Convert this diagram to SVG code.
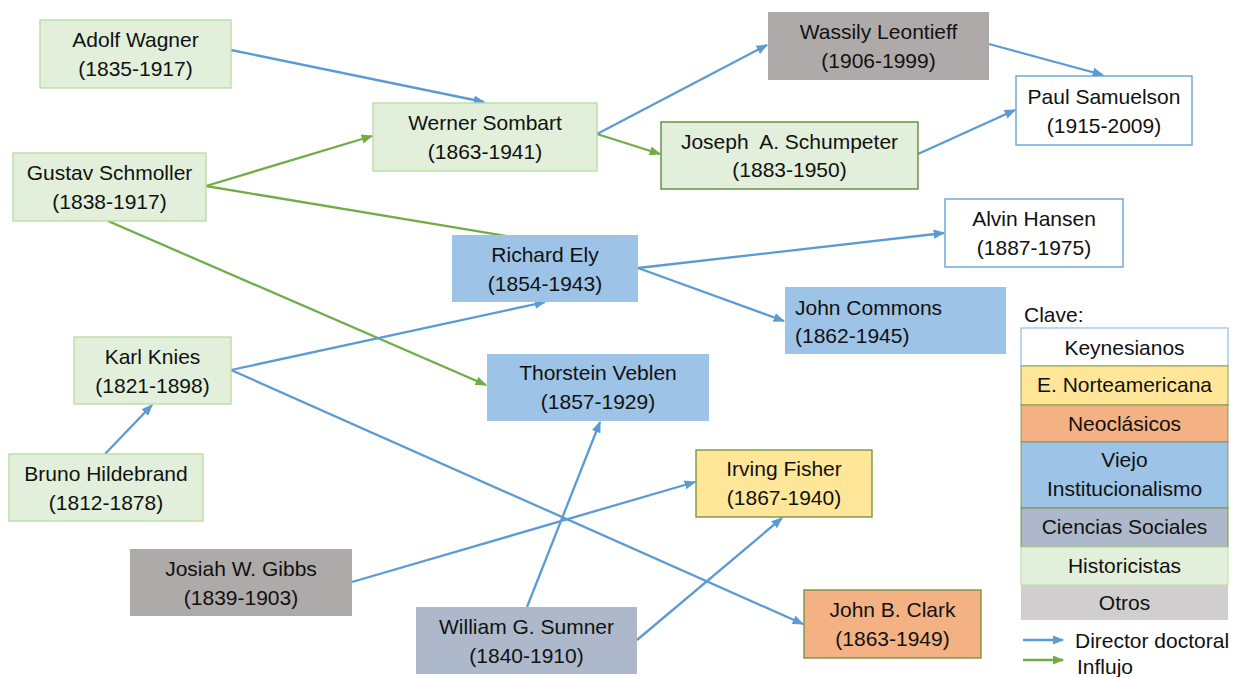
<svg xmlns="http://www.w3.org/2000/svg" width="1238" height="677" viewBox="0 0 1238 677">
<style>
text{font-family:"Liberation Sans",Arial,sans-serif;font-size:21px;fill:#111}
.c{text-anchor:middle}
.hist{fill:#e2efda;stroke:#b7dba0;stroke-width:1.3}
.histd{fill:#e2efda;stroke:#548235;stroke-width:1.3}
.inst{fill:#9dc3e6;stroke:none}
.key{fill:#fff;stroke:#5b9bd5;stroke-width:1.3}
.otr{fill:#aeaaaa;stroke:none}
.soc{fill:#adb9ca;stroke:none}
.nor{fill:#ffe699;stroke:#6f8f3a;stroke-width:1.3}
.neo{fill:#f4b183;stroke:#6f8f3a;stroke-width:1.3}
.b{stroke:#5b9bd5;stroke-width:2.3;fill:none;marker-end:url(#ab)}
.g{stroke:#70ad47;stroke-width:2.3;fill:none;marker-end:url(#ag)}
</style>
<defs>
<marker id="ab" viewBox="0 0 10 10" refX="9" refY="5" markerWidth="5" markerHeight="5" orient="auto" markerUnits="strokeWidth"><path d="M0,1 L10,5 L0,9 Z" fill="#5b9bd5"/></marker>
<marker id="ag" viewBox="0 0 10 10" refX="9" refY="5" markerWidth="5" markerHeight="5" orient="auto" markerUnits="strokeWidth"><path d="M0,1 L10,5 L0,9 Z" fill="#70ad47"/></marker>
</defs>
<g id="connectors">
<line class="b" x1="231" y1="50" x2="484" y2="102"/>
<line class="g" x1="206" y1="186" x2="372" y2="136"/>
<line x1="206" y1="186" x2="530" y2="240" stroke="#70ad47" stroke-width="2.3"/>
<line class="g" x1="108" y1="221" x2="486" y2="385"/>
<line class="b" x1="597" y1="134" x2="767" y2="45"/>
<line class="g" x1="597" y1="134" x2="660" y2="154"/>
<line class="b" x1="989" y1="44" x2="1103" y2="75"/>
<line class="b" x1="918" y1="154" x2="1015" y2="110"/>
<line class="b" x1="638" y1="268" x2="944" y2="233"/>
<line class="b" x1="638" y1="268" x2="784" y2="321"/>
<line class="b" x1="231" y1="370" x2="545" y2="302"/>
<line class="b" x1="231" y1="370" x2="803" y2="624"/>
<line class="b" x1="105" y1="454" x2="152" y2="405"/>
<line class="b" x1="352" y1="582" x2="695" y2="482"/>
<line class="b" x1="527" y1="607" x2="600" y2="422"/>
<line class="b" x1="637" y1="640" x2="782" y2="518"/>
</g>
<g id="wagner"><rect class="hist" x="40" y="20" width="191" height="68"/><text class="c" x="135.5" y="47">Adolf Wagner</text><text class="c" x="135.5" y="76">(1835-1917)</text></g>
<g id="schmoller"><rect class="hist" x="13" y="153" width="193" height="68"/><text class="c" x="109.5" y="180">Gustav Schmoller</text><text class="c" x="109.5" y="209">(1838-1917)</text></g>
<g id="sombart"><rect class="hist" x="373" y="103" width="224" height="68"/><text class="c" x="485" y="130">Werner Sombart</text><text class="c" x="485" y="159">(1863-1941)</text></g>
<g id="leontieff"><rect class="otr" x="768" y="12" width="221" height="68"/><text class="c" x="878.5" y="39">Wassily Leontieff</text><text class="c" x="878.5" y="68">(1906-1999)</text></g>
<g id="schumpeter"><rect class="histd" x="661" y="122" width="257" height="67"/><text class="c" x="789.5" y="149" xml:space="preserve" style="white-space:pre">Joseph  A. Schumpeter</text><text class="c" x="789.5" y="177">(1883-1950)</text></g>
<g id="samuelson"><rect class="key" x="1016" y="76" width="176" height="69"/><text class="c" x="1104" y="104">Paul Samuelson</text><text class="c" x="1104" y="133">(1915-2009)</text></g>
<g id="hansen"><rect class="key" x="945" y="199" width="178" height="68"/><text class="c" x="1034" y="226">Alvin Hansen</text><text class="c" x="1034" y="255">(1887-1975)</text></g>
<g id="ely"><rect class="inst" x="452" y="235" width="186" height="67"/><text class="c" x="545" y="262">Richard Ely</text><text class="c" x="545" y="291">(1854-1943)</text></g>
<g id="commons"><rect class="inst" x="785" y="287" width="221" height="67"/><text x="795" y="315">John Commons</text><text x="795" y="343">(1862-1945)</text></g>
<g id="veblen"><rect class="inst" x="487" y="354" width="222" height="67"/><text class="c" x="598" y="380">Thorstein Veblen</text><text class="c" x="598" y="409">(1857-1929)</text></g>
<g id="knies"><rect class="hist" x="74" y="337" width="157" height="67"/><text class="c" x="152.5" y="364">Karl Knies</text><text class="c" x="152.5" y="393">(1821-1898)</text></g>
<g id="hildebrand"><rect class="hist" x="9" y="454" width="194" height="67"/><text class="c" x="106" y="481">Bruno Hildebrand</text><text class="c" x="106" y="510">(1812-1878)</text></g>
<g id="gibbs"><rect class="otr" x="130" y="549" width="222" height="67"/><text class="c" x="241" y="576">Josiah W. Gibbs</text><text class="c" x="241" y="605">(1839-1903)</text></g>
<g id="sumner"><rect class="soc" x="416" y="607" width="221" height="67"/><text class="c" x="526.5" y="634">William G. Sumner</text><text class="c" x="526.5" y="663">(1840-1910)</text></g>
<g id="fisher"><rect class="nor" x="696" y="450" width="176" height="67"/><text class="c" x="784" y="476">Irving Fisher</text><text class="c" x="784" y="505">(1867-1940)</text></g>
<g id="clark"><rect class="neo" x="804" y="590" width="177" height="68"/><text class="c" x="892.5" y="617">John B. Clark</text><text class="c" x="892.5" y="646">(1863-1949)</text></g>
<g id="legend">
<text x="1024" y="322">Clave:</text>
<rect x="1021" y="328" width="207" height="38" fill="#fff" stroke="#9dc3e6" stroke-width="1.3"/>
<text class="c" x="1124.5" y="355">Keynesianos</text>
<rect x="1021" y="366" width="207" height="39" fill="#ffe699" stroke="#6f8f3a" stroke-width="0.8"/>
<text class="c" x="1124.5" y="392">E. Norteamericana</text>
<rect x="1021" y="405" width="207" height="37" fill="#f4b183" stroke="#6f8f3a" stroke-width="0.8"/>
<text class="c" x="1124.5" y="431">Neoclásicos</text>
<rect x="1021" y="442" width="207" height="66" fill="#9dc3e6" stroke="#6f8f3a" stroke-width="0.8"/>
<text class="c" x="1124.5" y="467">Viejo</text>
<text class="c" x="1124.5" y="496">Institucionalismo</text>
<rect x="1021" y="508" width="207" height="39" fill="#adb9ca" stroke="#6f8f3a" stroke-width="0.9"/>
<text class="c" x="1124.5" y="534">Ciencias Sociales</text>
<rect x="1021" y="547" width="207" height="38" fill="#e2efda" stroke="#b7dba0" stroke-width="1"/>
<text class="c" x="1124.5" y="573">Historicistas</text>
<rect x="1021" y="585" width="207" height="35" fill="#d0cece"/>
<text class="c" x="1124.5" y="610">Otros</text>
<line x1="1023" y1="640" x2="1063" y2="640" stroke="#5b9bd5" stroke-width="2.3" marker-end="url(#ab)"/>
<text x="1075" y="648">Director doctoral</text>
<line x1="1023" y1="660" x2="1063" y2="660" stroke="#70ad47" stroke-width="2.3" marker-end="url(#ag)"/>
<text x="1077" y="674">Influjo</text>
</g>
</svg>
